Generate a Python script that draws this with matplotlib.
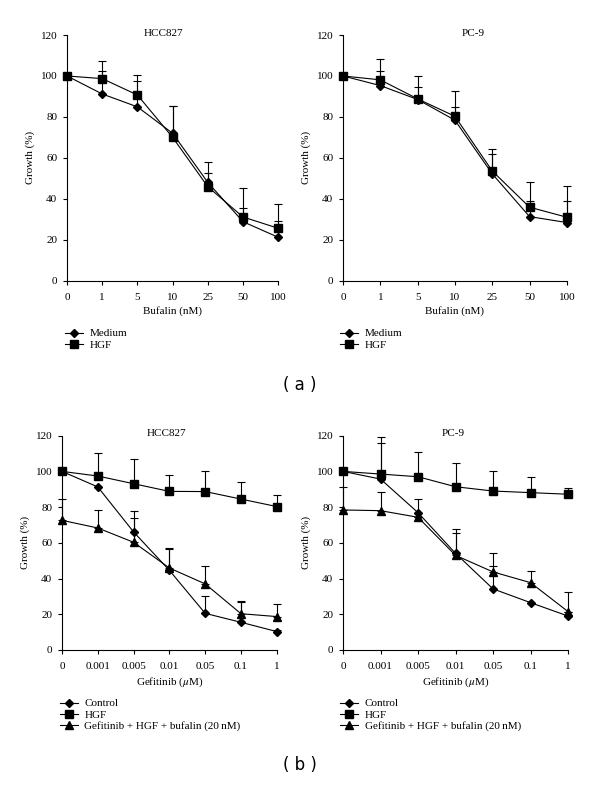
import numpy as np
import matplotlib
matplotlib.use("Agg")
import matplotlib.pyplot as plt
from matplotlib.lines import Line2D

plt.rcParams['font.family'] = ['Liberation Serif', 'DejaVu Serif']
plt.rcParams['mathtext.fontset'] = 'stix'
plt.rcParams['font.size'] = 8

# --- data ---
bufalin_ticks = ['0', '1', '5', '10', '25', '50', '100']
gefitinib_ticks = ['0', '0.001', '0.005', '0.01', '0.05', '0.1', '1']

# (a) HCC827
a_hcc_medium = [100, 91.2, 84.9, 72, 48, 28.8, 21.2]
a_hcc_medium_err = [0, 11, 12.6, 13.3, 4.4, 6.6, 8]
a_hcc_hgf = [100, 98.7, 90.7, 70, 45.9, 31.1, 25.6]
a_hcc_hgf_err = [0, 8.8, 9.8, 15.3, 12.1, 14, 11.9]

# (a) PC-9
a_pc9_medium = [100, 95.3, 88.5, 78.4, 52.2, 31.3, 28.4]
a_pc9_medium_err = [0, 7.1, 6, 6.6, 9.7, 7.6, 10.6]
a_pc9_hgf = [100, 98.1, 88.8, 80.3, 53.6, 35.9, 31]
a_pc9_hgf_err = [0, 10.4, 11.2, 12.4, 10.7, 12.1, 15.4]

# (b) HCC827
b_hcc_control = [100, 91.3, 66.1, 44.6, 20.5, 15.5, 10.3]
b_hcc_control_err = [0, 0, 11.9, 12.2, 9.9, 11.5, 1]
b_hcc_hgf = [100, 97.4, 93.1, 88.8, 88.7, 84.5, 80.3]
b_hcc_hgf_err = [0, 13.1, 13.7, 9, 11.7, 9.4, 6.7]
b_hcc_combo = [72.6, 68.3, 60.3, 45.9, 37, 20.3, 18.7]
b_hcc_combo_err = [11.8, 10, 13.4, 11, 10, 7, 6.9]

# (b) PC-9
b_pc9_control = [100, 95.7, 76.9, 54.1, 34.2, 26.5, 19]
b_pc9_control_err = [0, 20.4, 7.5, 13.5, 12.8, 0, 2]
b_pc9_hgf = [100, 98.5, 97, 91.4, 89, 88.1, 87.2]
b_pc9_hgf_err = [0, 20.9, 13.7, 13.1, 11, 9, 3.7]
b_pc9_combo = [78.4, 78, 74.3, 53, 43.7, 37.7, 21.5]
b_pc9_combo_err = [13, 10.7, 0, 12.7, 10.4, 6.7, 10.8]

fig = plt.figure(figsize=(6, 7.94), dpi=100)

mk = {'D': 4.0, 's': 5.6, '^': 5.4}


def draw(ax, series, ticks, title, tx, xlabel):
    x = np.arange(len(ticks))
    for y, e, m in series:
        ax.errorbar(x, y, yerr=[np.zeros(len(e)), e], fmt='-', marker=m,
                    color='black', ms=mk[m], lw=0.8, elinewidth=0.8,
                    capsize=3.2, capthick=0.8, clip_on=False, zorder=3)
    ax.set_xlim(0, len(ticks) - 1)
    ax.set_ylim(0, 120)
    ax.set_yticks(range(0, 121, 20))
    ax.set_xticks(x)
    ax.set_xticklabels(ticks)
    ax.spines['top'].set_visible(False)
    ax.spines['right'].set_visible(False)
    for s in ('left', 'bottom'):
        ax.spines[s].set_linewidth(0.8)
    ax.tick_params(axis='y', direction='out', length=3, width=0.8, labelsize=8, pad=4)
    ax.tick_params(axis='x', direction='out', length=3, width=0.8, labelsize=8, pad=6)
    ax.set_ylabel('Growth (%)', fontsize=8, labelpad=4)
    ax.set_xlabel(xlabel, fontsize=8, labelpad=3)
    ax.text(tx, 1.008, title, transform=ax.transAxes, ha='center', va='center',
            fontsize=8)


ax1 = fig.add_axes([0.1117, 0.6465, 0.352, 0.3094])
draw(ax1, [(a_hcc_medium, a_hcc_medium_err, 'D'), (a_hcc_hgf, a_hcc_hgf_err, 's')],
     bufalin_ticks, 'HCC827', 0.455, 'Bufalin (nM)')
ax2 = fig.add_axes([0.5717, 0.6465, 0.373, 0.3094])
draw(ax2, [(a_pc9_medium, a_pc9_medium_err, 'D'), (a_pc9_hgf, a_pc9_hgf_err, 's')],
     bufalin_ticks, 'PC-9', 0.58, 'Bufalin (nM)')
ax3 = fig.add_axes([0.1033, 0.1814, 0.358, 0.2699])
draw(ax3, [(b_hcc_control, b_hcc_control_err, 'D'), (b_hcc_hgf, b_hcc_hgf_err, 's'),
           (b_hcc_combo, b_hcc_combo_err, '^')],
     gefitinib_ticks, 'HCC827', 0.488, r'Gefitinib ($\mu$M)')
ax4 = fig.add_axes([0.5717, 0.1814, 0.375, 0.2699])
draw(ax4, [(b_pc9_control, b_pc9_control_err, 'D'), (b_pc9_hgf, b_pc9_hgf_err, 's'),
           (b_pc9_combo, b_pc9_combo_err, '^')],
     gefitinib_ticks, 'PC-9', 0.49, r'Gefitinib ($\mu$M)')


def handle(m):
    return Line2D([], [], color='black', lw=0.8, marker=m, ms=mk[m])


leg_a = ['Medium', 'HGF']
leg_b = ['Control', 'HGF', 'Gefitinib + HGF + bufalin (20\u2009nM)']
for x0 in (0.108, 0.567):
    fig.legend([handle('D'), handle('s')], leg_a, loc='upper left',
               bbox_to_anchor=(x0, 0.586), frameon=False, fontsize=8,
               handlelength=1.6, handletextpad=0.6, labelspacing=0.12,
               borderpad=0, borderaxespad=0)
for x0 in (0.1, 0.567):
    fig.legend([handle('D'), handle('s'), handle('^')], leg_b, loc='upper left',
               bbox_to_anchor=(x0, 0.12), frameon=False, fontsize=8,
               handlelength=1.6, handletextpad=0.6, labelspacing=0.12,
               borderpad=0, borderaxespad=0)

fig.text(0.5, 1 - 385 / 794, '( a )', ha='center', va='center',
         fontsize=12, family='DejaVu Sans')
fig.text(0.5, 1 - 765 / 794, '( b )', ha='center', va='center',
         fontsize=12, family='DejaVu Sans')

fig.savefig('out.png', dpi=100)
